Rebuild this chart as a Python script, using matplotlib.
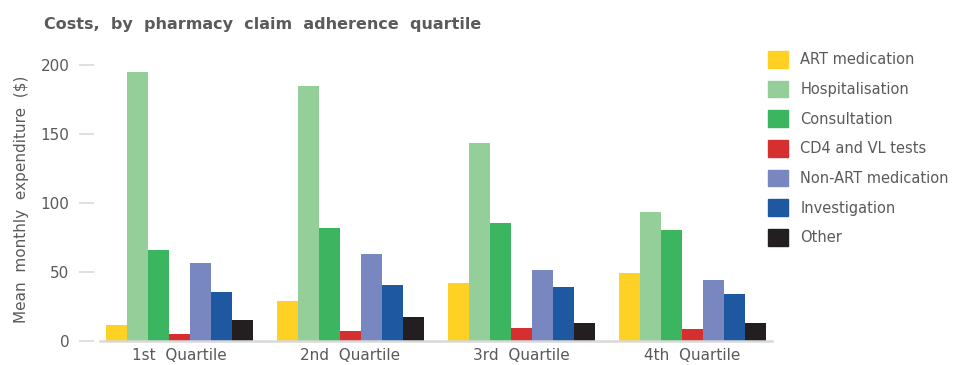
import numpy as np
import matplotlib.pyplot as plt
from matplotlib.patches import Patch

quartiles = ["1st  Quartile", "2nd  Quartile", "3rd  Quartile", "4th  Quartile"]
series = ["ART medication", "Hospitalisation", "Consultation", "CD4 and VL tests",
          "Non-ART medication", "Investigation", "Other"]
colors = ["#FFD124", "#94CE98", "#3BB55F", "#D62F2F", "#7887BF", "#1D58A1", "#231F20"]

art = [11.5, 29, 42, 49]
hospital = [195, 185, 143, 93.5]
consult = [66, 82, 85, 80.5]
cd4_vl = [5, 7, 9, 8.5]
non_art = [56.5, 63, 51.5, 44]
invest = [35.5, 40.5, 39, 34]
other = [15, 17, 13, 13]
values = [art, hospital, consult, cd4_vl, non_art, invest, other]

grey = "#5a5a5a"
plt.rcParams['font.family'] = ['DejaVu Sans']

fig = plt.figure(figsize=(9.55, 3.65), dpi=100)
ax = fig.add_axes([100 / 955, 24.3 / 365, 672 / 955, (340.7 - 58) / 365])

x = np.arange(len(quartiles))
w = 0.86 / len(series)
for i, (vals, c) in enumerate(zip(values, colors)):
    ax.bar(x - 0.43 + w * (i + 0.5), vals, width=w, color=c, label=series[i])

ax.set_xlim(-0.465, 3.465)
ax.set_ylim(0, 205)
ax.set_yticks([0, 50, 100, 150, 200])
ax.set_xticks(x)
ax.set_xticklabels(quartiles)

for s in ["top", "right", "left"]:
    ax.spines[s].set_visible(False)
ax.spines["left"].set_position(("outward", 4))
ax.spines["bottom"].set_color("#d9d9d9")
ax.spines["bottom"].set_linewidth(1.8)
ax.tick_params(axis="y", length=11, width=1.2, color="#d9d9d9", pad=7,
               labelsize=11, labelcolor=grey)
ax.tick_params(axis="x", length=0, pad=5, labelsize=11, labelcolor=grey)
ax.set_ylabel("Mean  monthly  expenditure  ($)", fontsize=11, color=grey, labelpad=8)

fig.text(44 / 955, 1 - 24 / 365, "Costs,  by  pharmacy  claim  adherence  quartile",
         fontsize=11.5, fontweight="bold", color=grey, va="center")

handles = [Patch(color=c) for c in colors]
fig.legend(handles, series, loc="upper left", bbox_to_anchor=(768 / 955, 1 - 51 / 365),
           frameon=False, fontsize=10.5, handlelength=1.37, handleheight=1.37,
           labelspacing=0.9, handletextpad=0.85, borderpad=0, borderaxespad=0,
           labelcolor=grey)

fig.savefig("out.png", dpi=100)
